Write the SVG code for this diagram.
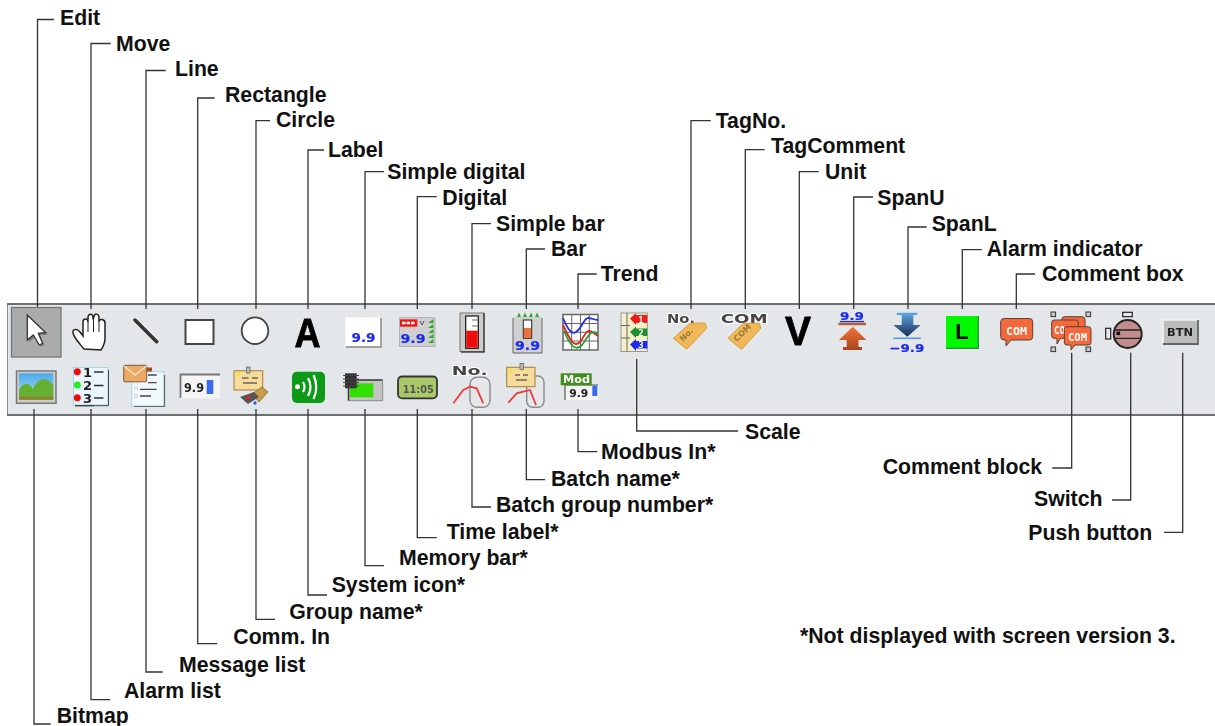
<svg xmlns="http://www.w3.org/2000/svg" width="1215" height="726" viewBox="0 0 1215 726">
<style>
.lbl{font:bold 21.25px "Liberation Sans",Arial,sans-serif;fill:#111}
.ic{filter:url(#soft)}
.cn{fill:none;stroke:#333;stroke-width:1.3}
.num{font-family:"DejaVu Sans",sans-serif;font-weight:bold;fill:#1a2bf0;stroke:#1a2bf0;stroke-width:.2}
.blk{font-family:"DejaVu Sans",sans-serif;font-weight:bold;fill:#222}
.hal{font-family:"DejaVu Sans",sans-serif;font-weight:bold;fill:#444;stroke:#fff;stroke-width:2;paint-order:stroke}
.wht{font-family:"DejaVu Sans Mono",monospace;font-weight:bold;fill:#fff}
.bub{fill:#f4693a;stroke:#5a4038;stroke-width:1}
.cyl{fill:#e6e7e8;stroke:#8a8a8a;stroke-width:1.400}
.tag{fill:#f0b858;stroke:#d89a3c;stroke-width:1}
.note{fill:#f6dc98;stroke:#b08a50;stroke-width:1.200}
.hnd{fill:#c8c8c8;stroke:#333;stroke-width:1}
.grid{stroke:#666;stroke-width:1;fill:none}
.trk{fill:none;stroke-width:1.800}
.gt{fill:#2fa82f}
</style>
<defs>
<filter id="soft" x="-10%" y="-10%" width="120%" height="120%"><feGaussianBlur stdDeviation=".4"/></filter>
<linearGradient id="sky" x1="0" y1="0" x2="0" y2="1"><stop offset="0" stop-color="#4aa8ea"/><stop offset="1" stop-color="#bfe4f8"/></linearGradient>
<linearGradient id="dn" x1="0" y1="0" x2="0" y2="1"><stop offset="0" stop-color="#5fa8e4"/><stop offset="1" stop-color="#182f58"/></linearGradient>
<linearGradient id="up" x1="0" y1="0" x2="0" y2="1"><stop offset="0" stop-color="#f4743a"/><stop offset="1" stop-color="#a8441f"/></linearGradient>
</defs>

<g id="toolbar">
<rect x="7.500" y="304" width="1209" height="111" fill="#e4e7ea" stroke="#8a8c8e" stroke-width="1"/>
<path d="M7 304H1215M7 415H1215" stroke="#555" stroke-width="1.600" fill="none"/>
</g>

<g id="connectors" class="cn">
<path d="M54 19.500H37.500V309"/>
<path d="M110.700 43.500H91V309"/>
<path d="M165.700 70.500H146V309"/>
<path d="M214.700 98H197.700V309"/>
<path d="M270 120.700H256V309"/>
<path d="M324 150H308V309"/>
<path d="M384 171.700H365V309"/>
<path d="M436.700 196.700H417.300V309"/>
<path d="M491 223.700H472V309"/>
<path d="M545 249H526.300V309"/>
<path d="M596.700 274H578V309"/>
<path d="M710.700 120.700H691V309"/>
<path d="M764.700 149.700H745.300V309"/>
<path d="M818.700 171.700H799.300V309"/>
<path d="M873 197H853.700V309"/>
<path d="M926.700 227H908V309"/>
<path d="M981.700 249.700H962.300V309"/>
<path d="M1035 274H1016.300V309"/>
<path d="M34 409V724H50.700"/>
<path d="M91 409V699.700H110"/>
<path d="M146 409V672H162.700"/>
<path d="M197.700 409V643.700H217.300"/>
<path d="M256 409V619.300H275"/>
<path d="M308 409V595H327"/>
<path d="M365 409V565.700H384"/>
<path d="M417.300 409V537.700H436.700"/>
<path d="M472 409V507H491"/>
<path d="M526.300 409V479.700H545"/>
<path d="M578 409V451.700H597.300"/>
<path d="M636.700 359V431H738"/>
<path d="M1071.700 352.700V468H1052.300"/>
<path d="M1130.700 352.700V500H1112"/>
<path d="M1182.700 352.700V532.300H1164"/>
</g>

<g id="edit"><g class="ic">
<rect x="11.500" y="307.500" width="49.500" height="49.500" fill="#a9abad" stroke="#777" stroke-width="1.300"/>
<path d="M29 317V342L35 337L41 347L44.400 345.300L40 335.300L47.400 334.700Z" fill="#666" opacity=".7"/>
<path d="M27.300 315V340L33.300 335L39.300 345L42.700 343.300L38.300 333.300L45.700 332.700Z" fill="#fff" stroke="#333" stroke-width="1.300"/>
</g><text class="lbl" x="60" y="25">Edit</text></g>
<g id="move"><g class="ic">
<path d="M84 349C80 344 74 338 73 333C72 329 77 328 80 332L83 336V322C83 318 88 318 88 322V318C88 313 93 313 93 318L94 317C94 313 99 313 99 318V322C99 318 105 319 105 323V338C105 344 103 347 101 350Z" fill="#fff" stroke="#222" stroke-width="1.500"/>
<path d="M88 322V332M93.500 318V332M99 322V332" stroke="#222" stroke-width="1" fill="none"/>
</g><text class="lbl" x="116" y="50.700">Move</text></g>
<g id="line"><g class="ic">
<path d="M135 320L156.700 341.700" stroke="#333" stroke-width="3.500" stroke-linecap="round"/>
</g><text class="lbl" x="175" y="76">Line</text></g>
<g id="rectangle"><g class="ic">
<rect x="185.500" y="320" width="28" height="24" fill="#fff" stroke="#444" stroke-width="2"/>
</g><text class="lbl" x="225" y="101.700">Rectangle</text></g>
<g id="circle"><g class="ic">
<circle cx="255" cy="330.700" r="13.300" fill="#fff" stroke="#444" stroke-width="1.800"/>
</g><text class="lbl" x="276" y="127.300">Circle</text></g>
<g id="label"><g class="ic">
<text x="307.500" y="347" text-anchor="middle" font-family="Liberation Sans, Arial, sans-serif" font-weight="bold" font-size="40" textLength="26" lengthAdjust="spacingAndGlyphs" fill="#000" stroke="#000" stroke-width=".8">A</text>
</g><text class="lbl" x="328" y="157">Label</text></g>
<g id="simple-digital"><g class="ic">
<rect x="345.500" y="317.500" width="35" height="29" fill="#fff"/>
<path d="M381 318V347H346" stroke="#888" stroke-width="1.500" fill="none"/>
<text class="num" x="351.500" y="341.700" font-size="12" textLength="24" lengthAdjust="spacingAndGlyphs">9.9</text>
</g><text class="lbl" x="387.300" y="179">Simple digital</text></g>
<g id="digital"><g class="ic">
<rect x="399.500" y="317.700" width="35.500" height="29" fill="#cfcfcf" stroke="#999" stroke-width=".6"/>
<rect x="400" y="319.300" width="17.300" height="7.400" fill="#f01818"/>
<path d="M402 323H415.500" stroke="#fff" stroke-width="2.500" stroke-dasharray="3.500 1"/>
<path d="M420 321L422 325L424 321" stroke="#555" stroke-width="1" fill="none"/>
<path class="gt" d="M433.500 319V323H428ZM433.500 324V328H428ZM433.500 329V333H428ZM433.500 334V338H428ZM433.500 339V343H428Z"/>
<text class="num" x="400.500" y="342.700" font-size="12" textLength="25" lengthAdjust="spacingAndGlyphs">9.9</text>
</g><text class="lbl" x="442.300" y="205">Digital</text></g>
<g id="simple-bar"><g class="ic">
<rect x="460" y="313" width="24" height="38.500" fill="#ccc" stroke="#777" stroke-width="1"/>
<path d="M484 313V352H461" stroke="#444" stroke-width="1.500" fill="none"/>
<rect x="465.700" y="316" width="12.600" height="32.300" fill="#fff" stroke="#111" stroke-width="1.200"/>
<rect x="466.300" y="330.700" width="11.400" height="17" fill="#ee1111"/>
<path d="M472 320H478M472 326H478" stroke="#666" stroke-width="1"/>
</g><text class="lbl" x="496" y="230.700">Simple bar</text></g>
<g id="bar"><g class="ic">
<rect x="513" y="317" width="28.700" height="36.300" fill="#d0d0d0"/>
<path d="M542 318V353H513V318" stroke="#666" stroke-width="1" fill="none"/>
<path class="gt" d="M517 317L519 312.500L521 317ZM523 317L525 312.500L527 317ZM529 317L531 312.500L533 317ZM535 317L537 312.500L539 317Z"/>
<rect x="523.300" y="320" width="8.400" height="18.300" fill="#fff" stroke="#222" stroke-width="1"/>
<rect x="524" y="328" width="7" height="10" fill="#f0703a"/>
<text class="num" x="515" y="350" font-size="12" textLength="25" lengthAdjust="spacingAndGlyphs">9.9</text>
</g><text class="lbl" x="551" y="255.700">Bar</text></g>
<g id="trend"><g class="ic">
<rect x="563" y="314.500" width="35" height="35.500" fill="#fff" stroke="#666" stroke-width="1.500"/>
<path class="grid" d="M571.700 314.500V350M580.500 314.500V350M589.300 314.500V350M563 323.500H598M563 332.300H598M563 341H598"/>
<path class="trk" stroke="#2030e0" d="M563 318C568 330 572 335 576 332C582 328 584 318 588 318C592 318 594 320 598 320"/>
<path class="trk" stroke="#e82020" d="M563 325C570 340 574 348 580 342C585 336 586 328 592 332L598 336"/>
<path class="trk" stroke="#20a030" d="M564 331C570 345 575 352 582 345C588 338 590 328 598 334"/>
</g><text class="lbl" x="600.700" y="281.300">Trend</text></g>
<g id="scale"><g class="ic">
<rect x="621" y="313" width="26.300" height="38.500" fill="#f6f0c8" stroke="#999" stroke-width="1"/>
<path class="grid" d="M621 325.500H630M621 338H630M627 313V351"/>
<path fill="#ef1c1c" d="M630 318.500L636 313V315H647.300V323H636V325Z"/>
<path fill="#1f8f2a" d="M630 332L636 326.500V328.500H647.300V336H636V338Z"/>
<path fill="#1a2bf0" d="M630 344.500L636 339V341H647.300V348.500H636V351Z"/>
<g class="wht" font-size="9" text-anchor="middle"><text x="641" y="322.500">1</text><text x="641" y="335.500">2</text><text x="641" y="348">3</text></g>
</g><text class="lbl" x="745" y="439">Scale</text></g>
<g id="tagno"><g class="ic">
<text class="hal" x="667" y="322.700" font-size="12" textLength="28" lengthAdjust="spacingAndGlyphs">No.</text>
<path class="tag" d="M673.300 338.300L686.700 349.300L706.700 328.300L705 323L690 323.300Z"/>
<text transform="translate(683 342) rotate(-45)" font-family="DejaVu Sans, sans-serif" font-weight="bold" font-size="8" fill="#97783a">No.</text>
</g><text class="lbl" x="715.700" y="128">TagNo.</text></g>
<g id="tagcomment"><g class="ic">
<text class="hal" x="720.700" y="322.700" font-size="12" textLength="47" lengthAdjust="spacingAndGlyphs">COM</text>
<path class="tag" d="M728 338.300L741.700 349.300L760.700 328.300L759.300 323.300L743.300 323.300Z"/>
<text transform="translate(737 342) rotate(-45)" font-family="DejaVu Sans, sans-serif" font-weight="bold" font-size="8" fill="#97783a">COM</text>
</g><text class="lbl" x="771" y="153.300">TagComment</text></g>
<g id="unit"><g class="ic">
<text x="798" y="345" text-anchor="middle" font-family="Liberation Sans, Arial, sans-serif" font-weight="bold" font-size="40" textLength="26" lengthAdjust="spacingAndGlyphs" fill="#000" stroke="#000" stroke-width=".8">V</text>
</g><text class="lbl" x="825" y="179">Unit</text></g>
<g id="spanu"><g class="ic">
<text class="num" x="840" y="320" font-size="11" textLength="24" lengthAdjust="spacingAndGlyphs" text-decoration="underline">9.9</text>
<path d="M838.300 324H866" stroke="#b5603a" stroke-width="2.500"/>
<path fill="url(#up)" d="M852.700 326.700L839 340H846.700V347H843V350H862V347H858.500V340H866.500Z"/>
</g><text class="lbl" x="877.300" y="205">SpanU</text></g>
<g id="spanl"><g class="ic">
<path fill="url(#dn)" d="M896.700 312.700H917.300V315H913.300V325H920.700L907.300 336.700L893.300 325H901.700V315H896.700Z"/>
<path d="M893.300 338.300H920.700" stroke="#4f96d8" stroke-width="1.500"/>
<text class="num" x="889.300" y="351.700" font-size="11" textLength="35" lengthAdjust="spacingAndGlyphs">−9.9</text>
</g><text class="lbl" x="931.700" y="230.700">SpanL</text></g>
<g id="alarm-indicator"><g class="ic">
<rect x="946" y="316" width="32.300" height="32.300" fill="#00f800"/>
<path d="M978.300 316V348.300H946" stroke="#2c8a44" stroke-width="1.300" fill="none"/>
<text x="962" y="339" text-anchor="middle" font-family="Liberation Sans, Arial, sans-serif" font-weight="bold" font-size="22" fill="#000">L</text>
</g><text class="lbl" x="986.700" y="256">Alarm indicator</text></g>
<g id="comment-box"><g class="ic">
<path class="bub" d="M1004 318.500H1029.500Q1032.700 318.500 1032.700 322V336.500Q1032.700 340 1029.500 340H1011L1006 346V340H1004Q1000.700 340 1000.700 336.500V322Q1000.700 318.500 1004 318.500Z"/>
<text class="wht" x="1006" y="334.500" font-size="10" textLength="21" lengthAdjust="spacingAndGlyphs">COM</text>
</g><text class="lbl" x="1042" y="281">Comment box</text></g>
<g id="comment-block"><g class="ic">
<rect class="hnd" x="1051" y="312" width="4.600" height="4.600"/><rect class="hnd" x="1086" y="312" width="4.600" height="4.600"/><rect class="hnd" x="1051" y="347" width="4.600" height="4.600"/><rect class="hnd" x="1086" y="347" width="4.600" height="4.600"/>
<rect class="bub" x="1061.700" y="316.700" width="23.300" height="15.300" rx="3"/>
<path class="bub" d="M1054 320H1076Q1078.300 320 1078.300 322.500V336Q1078.300 338.300 1076 338.300H1060.500L1057 344V338.300H1054Q1051.700 338.300 1051.700 336V322.500Q1051.700 320 1054 320Z"/>
<text class="wht" x="1054" y="334" font-size="10" textLength="11" lengthAdjust="spacingAndGlyphs">CO</text>
<path class="bub" d="M1067 326.700H1088.500Q1091 326.700 1091 329.500V342.500Q1091 345 1088.500 345H1075L1071 350V345H1067Q1064.300 345 1064.300 342.500V329.500Q1064.300 326.700 1067 326.700Z"/>
<text class="wht" x="1068" y="340.500" font-size="10" textLength="19" lengthAdjust="spacingAndGlyphs">COM</text>
</g><text class="lbl" x="882.700" y="474">Comment block</text></g>
<g id="switch"><g class="ic">
<circle cx="1127.700" cy="334" r="14" fill="#c28c8c" stroke="#222" stroke-width="2"/>
<path d="M1114.500 330H1141M1114.500 338.300H1141" stroke="#222" stroke-width="1.300"/>
<rect x="1116.500" y="331.500" width="3.600" height="3.600" fill="#111"/>
<rect x="1122.700" y="312.300" width="9.600" height="4.400" fill="#e8e8e8" stroke="#222" stroke-width="1.200"/>
<rect x="1105.700" y="328.300" width="5" height="10.700" fill="#e8e8e8" stroke="#222" stroke-width="1.200"/>
</g><text class="lbl" x="1034" y="506">Switch</text></g>
<g id="push-button"><g class="ic">
<rect x="1163" y="320" width="35" height="24" fill="#bcbcbc"/>
<path d="M1163 344V320H1198" stroke="#f4f4f4" stroke-width="1.500" fill="none"/>
<path d="M1198 320V344H1163" stroke="#666" stroke-width="1.800" fill="none"/>
<text class="blk" x="1167" y="336" font-size="10" textLength="26" lengthAdjust="spacingAndGlyphs">BTN</text>
</g><text class="lbl" x="1028.300" y="540.300">Push button</text></g>

<g id="bitmap"><g class="ic">
<rect x="16.500" y="371" width="39.500" height="32.300" fill="#ccc" stroke="#777" stroke-width="1.500"/>
<rect x="19" y="373.300" width="34.300" height="26.700" fill="url(#sky)"/>
<path d="M19 400V390C23 382 29 382 33 389C37 378 47 376 53.300 385V400Z" fill="#63b030"/>
<path d="M19 398H53.300" stroke="#9a7a30" stroke-width="2.500"/>
</g><text class="lbl" x="56.700" y="723.300">Bitmap</text></g>
<g id="alarm-list"><g class="ic">
<rect x="73.500" y="367.500" width="34.500" height="37.500" fill="#eaf5fc" stroke="#a8d4ec" stroke-width="1"/>
<path d="M94 405.700H108.500V370" stroke="#444" stroke-width="1" fill="none"/>
<circle cx="77.300" cy="371.700" r="3.500" fill="#ee1111"/><circle cx="77.300" cy="385" r="3.500" fill="#22ee22"/><circle cx="77.300" cy="397.700" r="3.500" fill="#ee1111"/>
<g class="blk" font-size="13"><text x="83" y="377">1</text><text x="83" y="390">2</text><text x="83" y="403">3</text></g>
<path d="M94 372H103.500M94 385.500H103.500M94 398H103.500" stroke="#333" stroke-width="1.500"/>
<path d="M75 405.700H94" stroke="#444" stroke-width="1.500"/>
</g><text class="lbl" x="124" y="697.700">Alarm list</text></g>
<g id="message-list"><g class="ic">
<rect x="131.700" y="371.700" width="32.300" height="34.300" fill="#f2f9fd" stroke="#a8d4ec" stroke-width="1"/>
<path d="M134 406.500H164.500V375" stroke="#666" stroke-width="1.200" fill="none"/>
<path d="M148 375H156.700M148 382.700H156.700M140 389.300H156.700M140 396H151" stroke="#444" stroke-width="1.300"/>
<path d="M136 383.300h0M136 389.300h0M136 396h0" stroke="#444" stroke-width="3" stroke-linecap="square"/>
<path d="M134.500 382h3v3h-3zM134.500 388h3v3h-3zM134.500 394.500h3v3h-3z" fill="#fff"/>
<rect x="147" y="367.500" width="5" height="4" fill="#a84a20"/>
<rect x="123.700" y="365.300" width="23" height="16.500" rx="1" fill="#eba968" stroke="#7a5a40" stroke-width="1"/>
<path d="M124 366L135 375L146.500 366" stroke="#fbe3c0" stroke-width="1.500" fill="none"/>
</g><text class="lbl" x="179" y="671.700">Message list</text></g>
<g id="comm-in"><g class="ic">
<rect x="180.500" y="374.500" width="39.500" height="24" fill="#f4f4f4"/>
<path d="M180.500 398V374.500H220" stroke="#777" stroke-width="1.800" fill="none"/>
<text x="184" y="391.500" font-family="DejaVu Sans, sans-serif" font-weight="bold" font-size="12" fill="#222" textLength="20" lengthAdjust="spacingAndGlyphs">9.9</text>
<rect x="206.700" y="380" width="6.600" height="14" fill="#3a6af0"/>
</g><text class="lbl" x="233.300" y="644.300">Comm. In</text></g>
<g id="group-name"><g class="ic">
<rect class="note" x="234" y="370.700" width="28.700" height="19.300"/>
<path d="M242 378H248.500M252 378H258M243 383H257" stroke="#666" stroke-width="1.300"/>
<path d="M236 372.500L238 375L236 377L238 376L240 377L239 374.500L240 372.500Z" fill="#f6e020"/>
<rect x="246.500" y="367" width="3.500" height="6" fill="#bbb" stroke="#666" stroke-width=".8"/>
<path d="M252 394L262 387L268 392L259 402Z" fill="#c89a4c" stroke="#8a6a30" stroke-width=".8"/>
<path d="M240 397L254 392L259 397L248 404Z" fill="#555"/>
<circle cx="248" cy="397.500" r="2" fill="#e02020"/><circle cx="255" cy="403" r="1.700" fill="#2060e0"/>
</g><text class="lbl" x="289.300" y="619">Group name*</text></g>
<g id="system-icon"><g class="ic">
<rect x="292" y="371.700" width="33" height="31.300" rx="5" fill="#0a9a18"/>
<circle cx="297.500" cy="386.700" r="2.500" fill="#fff"/>
<path d="M303 382Q306 387 303 392M308 378Q313 387 308 396M313.500 375Q319 387 313.500 399" stroke="#fff" stroke-width="2.200" fill="none"/>
</g><text class="lbl" x="331.700" y="592.300">System icon*</text></g>
<g id="memory-bar"><g class="ic">
<rect x="348.500" y="380" width="34" height="20.700" fill="#c4c4c4"/>
<path d="M348.500 400.700V380H382.700" stroke="#333" stroke-width="1.500" fill="none"/>
<path d="M382.700 380V400.700H348.500" stroke="#888" stroke-width="1" fill="none"/>
<rect x="350" y="383.300" width="23.300" height="14" fill="#33e000"/>
<rect x="345" y="373.300" width="11.700" height="15" fill="#333"/>
<path d="M343 375.500H359M343 379H359M343 382.500H359M343 386H359" stroke="#444" stroke-width="1"/>
</g><text class="lbl" x="399" y="565">Memory bar*</text></g>
<g id="time-label"><g class="ic">
<rect x="398" y="376.500" width="39" height="21.800" rx="4" fill="#a8c86a" stroke="#333" stroke-width="1.800"/>
<text x="402.700" y="392.700" font-family="DejaVu Sans, sans-serif" font-weight="bold" font-size="11" fill="#555" textLength="31" lengthAdjust="spacingAndGlyphs">11:05</text>
</g><text class="lbl" x="446.700" y="539.300">Time label*</text></g>
<g id="batch-group-number"><g class="ic">
<rect class="cyl" x="470" y="377.300" width="20" height="30" rx="7"/>
<text class="hal" x="451.700" y="375" font-size="13" textLength="36" lengthAdjust="spacingAndGlyphs">No.</text>
<path d="M453.300 403.300L463.300 390L470 386.700L476.700 388.300L483.300 403.300" stroke="#ee3a3a" stroke-width="1.800" fill="none"/>
</g><text class="lbl" x="496" y="512.300">Batch group number*</text></g>
<g id="batch-name"><g class="ic">
<rect class="cyl" x="526.700" y="376" width="17.300" height="31.300" rx="6"/>
<rect class="note" x="506.700" y="367.300" width="28.300" height="19.400"/>
<path d="M515 375H520M523 375H528M516 380H527" stroke="#666" stroke-width="1.300"/>
<path d="M508.500 369L510.500 371.500L508.500 373.500L510.500 372.500L512.500 373.500L511.500 371L512.500 369Z" fill="#f6e020"/>
<rect x="520" y="363.500" width="3.500" height="6" fill="#bbb" stroke="#666" stroke-width=".8"/>
<path d="M508.300 402.700L516.700 393.300L523.300 391.700L530 390L536 405" stroke="#ee3a3a" stroke-width="1.800" fill="none"/>
</g><text class="lbl" x="551" y="486">Batch name*</text></g>
<g id="modbus-in"><g class="ic">
<rect x="565" y="385" width="33.300" height="15" fill="#f4f4f4"/>
<path d="M565 400V385H598" stroke="#555" stroke-width="1.200" fill="none"/>
<text x="569.300" y="396.700" font-family="DejaVu Sans, sans-serif" font-weight="bold" font-size="11" fill="#222" textLength="19" lengthAdjust="spacingAndGlyphs">9.9</text>
<rect x="592.300" y="385.700" width="5" height="10.300" fill="#3a6af0"/>
<rect x="560.700" y="373.300" width="31" height="12" fill="#3f8f1e"/>
<text x="563" y="383.300" font-family="DejaVu Sans, sans-serif" font-weight="bold" font-size="10.500" fill="#fff" textLength="27" lengthAdjust="spacingAndGlyphs">Mod</text>
</g><text class="lbl" x="601" y="459.300">Modbus In*</text></g>
<g id="note"><text class="lbl" x="800" y="642.700">*Not displayed with screen version 3.</text></g>
</svg>
